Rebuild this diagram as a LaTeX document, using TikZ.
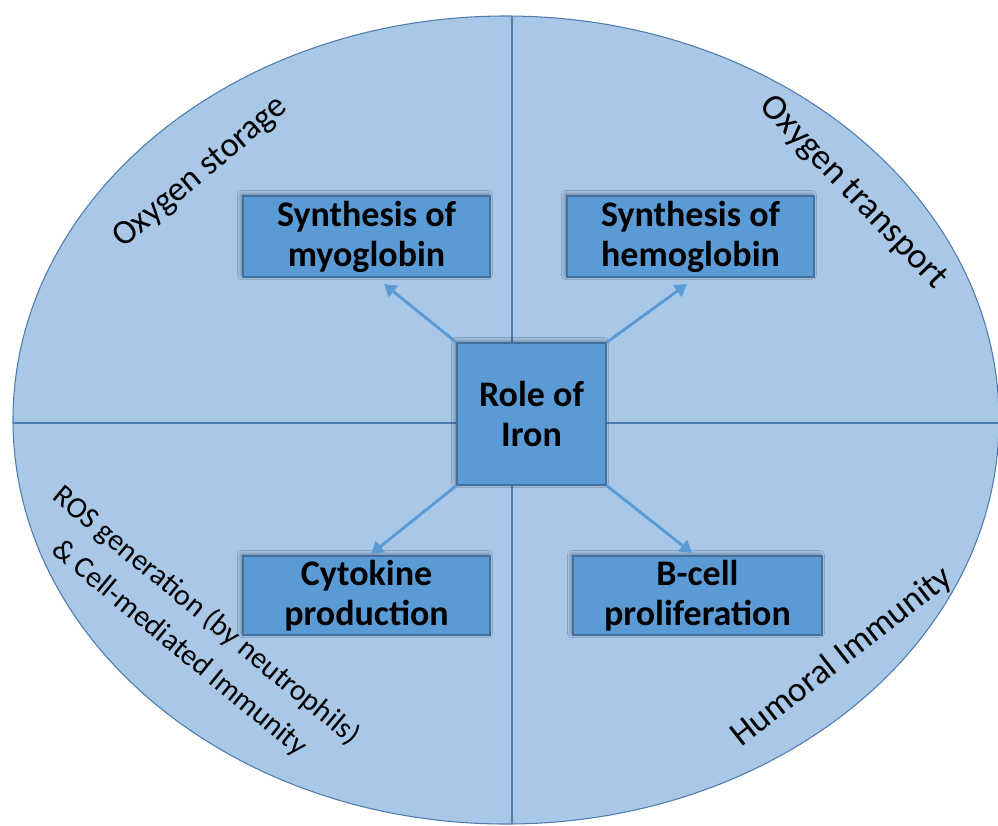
\documentclass[tikz,border=0pt]{standalone}
\usepackage{fontspec}
\setmainfont{Carlito}
\usetikzlibrary{arrows.meta,shadows.blur}
\definecolor{ellfill}{HTML}{A9C8E8}
\definecolor{ellline}{HTML}{4F7CAE}
\definecolor{boxfill}{HTML}{5B9BD5}
\definecolor{boxline}{HTML}{41719C}
\definecolor{arrowc}{HTML}{5B9BD5}
\begin{document}
\begin{tikzpicture}[x=0.75pt,y=-0.75pt,
 box/.style={draw=boxline, line width=0.8pt, fill=boxfill, align=center, inner sep=0pt,
   font=\fontsize{27}{30}\selectfont\bfseries,
   blur shadow={shadow xshift=-1.2pt, shadow yshift=1.2pt, shadow blur radius=3pt, shadow opacity=45}},
 region/.style={font=\fontsize{26.5}{34}\selectfont, align=center, inner sep=0pt},
 conn/.style={draw=arrowc, line width=2.2pt, -{Triangle[width=10.5pt,length=9pt]}}]
\useasboundingbox (0,0) rectangle (998,825);
% outer ellipse
\draw[fill=ellfill, draw=ellline, line width=0.8pt] (506,420) ellipse [x radius=369.75pt, y radius=303pt];
% quadrant lines
\coordinate (vt) at (512,16);
\coordinate (vb) at (512,824);
\coordinate (hl) at (13,423);
\coordinate (hr) at (999,423);
\draw[ellline, line width=0.8pt] (vt) -- (vb);
\draw[ellline, line width=0.8pt] (hl) -- (hr);
% region labels
\node[region, font=\fontsize{26}{34}\selectfont, rotate=40] (lstor) at (201,173) {Oxygen storage};
\node[region, font=\fontsize{27}{34}\selectfont, rotate=-46] (ltrans) at (853,193) {Oxygen transport};
\node[region, rotate=38] (lhum) at (842,657) {Humoral Immunity};
\node[region, font=\fontsize{22.5}{31.5}\selectfont, rotate=-39.5] (lros) at (193,632) {ROS generation (by neutrophils)\\\& Cell-mediated Immunity};
% boxes
\node[box, minimum width=185.25pt, minimum height=60.75pt] (myo) at (366.5,236.5) {Synthesis of\\myoglobin};
\node[box, minimum width=185.25pt, minimum height=60.75pt] (hemo) at (690.5,236.5) {Synthesis of\\hemoglobin};
\node[box, minimum width=185.25pt, minimum height=59.25pt] (cyto) at (366.5,595.5) {Cytokine\\production};
\node[box, minimum width=186.75pt, minimum height=59.25pt] (bcell) at (697.5,595.5) {B-cell\\proliferation};
\node[box, minimum width=111.75pt, minimum height=106.5pt] (cen) at (531.5,414) {Role of\\Iron};
% arrow tips
\coordinate (t1) at (384,284);
\coordinate (t2) at (687,284);
\coordinate (t3) at (371,554);
\coordinate (t4) at (692,553);
\draw[conn] (cen.north west) -- (t1);
\draw[conn] (cen.north east) -- (t2);
\draw[conn] (cen.south west) -- (t3);
\draw[conn] (cen.south east) -- (t4);
\end{tikzpicture}
\end{document}
